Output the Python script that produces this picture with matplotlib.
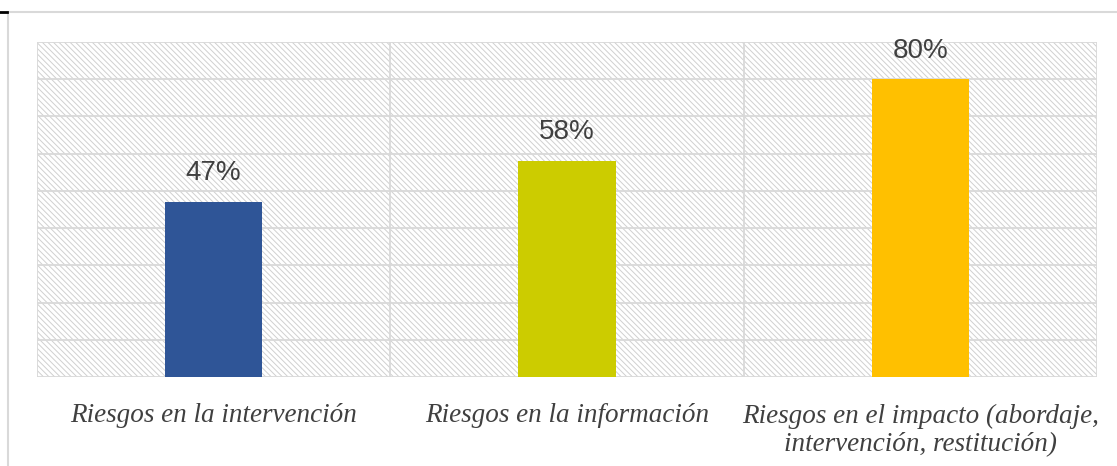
import matplotlib
matplotlib.use("Agg")
import matplotlib.pyplot as plt
from matplotlib.patches import Rectangle
from matplotlib.lines import Line2D

# ==========================================================
# DATA
# ==========================================================

categories = [
    "Riesgos en la intervención",
    "Riesgos en la información",
    "Riesgos en el impacto (abordaje,\nintervención, restitución)",
]

values = [47, 58, 80]

bar_colors = ["#2F5597", "#CCCC00", "#FFC000"]

# ==========================================================
# FIGURE
# ==========================================================

plt.rcParams["hatch.linewidth"] = 0.7

fig = plt.figure(figsize=(11.17, 4.66), dpi=100)
ax = fig.add_axes([37 / 1117, 1 - 377 / 466, 1060 / 1117, 335 / 466])

ax.set_xlim(-0.5, len(categories) - 0.5)
ax.set_ylim(0, 90)

# hatched background
ax.add_patch(Rectangle((0, 0), 1, 1, transform=ax.transAxes,
                       facecolor="white", edgecolor="#D0D0D0",
                       hatch="\\" * 6, linewidth=0, zorder=0))

# grid
for y in range(0, 91, 10):
    ax.axhline(y, color="#D9D9D9", linewidth=1.3, zorder=1)
for x in [-0.5, 0.5, 1.5, 2.5]:
    ax.axvline(x, color="#D9D9D9", linewidth=1.3, zorder=1)

positions = range(len(categories))
ax.bar(positions, values, width=0.275, color=bar_colors, zorder=2)

for x, v in zip(positions, values):
    ax.text(x, v + 4.2, f"{v}%", ha="center", va="bottom",
            fontsize=20, color="#404040", family="Liberation Sans")

ax.set_xticks(list(positions))
ax.set_xticklabels(categories, fontsize=19.5, color="#404040",
                   family="Liberation Serif", style="italic",
                   linespacing=1.2)
ax.tick_params(axis="x", length=0, pad=19)
ax.set_yticks([])

for s in ax.spines.values():
    s.set_visible(False)

# outer chart frame
fig.add_artist(Line2D([8 / 1117, 1], [1 - 12 / 466, 1 - 12 / 466],
                      color="#D9D9D9", linewidth=1.5))
fig.add_artist(Line2D([8 / 1117, 8 / 1117], [0, 1 - 12 / 466],
                      color="#D9D9D9", linewidth=1.5))
fig.add_artist(Line2D([0, 7 / 1117], [1 - 12 / 466, 1 - 12 / 466],
                      color="black", linewidth=2))

fig.savefig("out.png", dpi=100)
